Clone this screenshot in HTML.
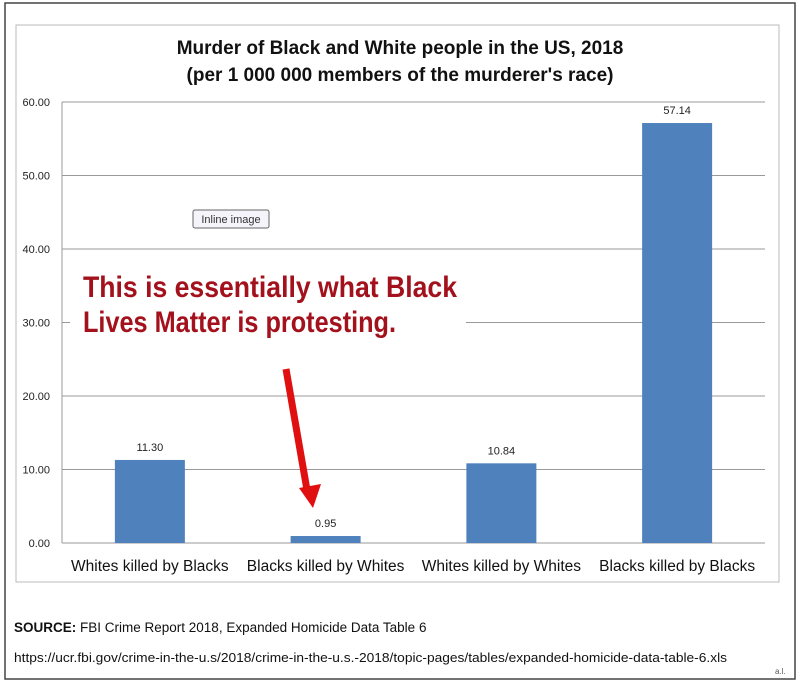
<!DOCTYPE html>
<html><head><meta charset="utf-8"><style>
html,body{margin:0;padding:0;background:#fff;width:800px;height:683px;overflow:hidden}
svg{display:block;font-family:"Liberation Sans",Arial,sans-serif}
</style></head><body>
<svg id="chart" width="800" height="683">
<rect x="5" y="3" width="790" height="676" fill="#fff" stroke="#444" stroke-width="1.5"/>
<rect x="16" y="25" width="763" height="557" fill="#fff" stroke="#bbb" stroke-width="1"/>
<text x="400" y="54" text-anchor="middle" font-size="19" font-weight="bold" fill="#111">Murder of Black and White people in the US, 2018</text>
<text x="400" y="81" text-anchor="middle" font-size="19" font-weight="bold" fill="#111">(per 1 000 000 members of the murderer's race)</text>
<g id="grid"></g>
<g id="bars"></g>
<rect x="193" y="210" width="76" height="18" rx="2" fill="#f4f4fa" stroke="#666"/>
<text x="231" y="223" text-anchor="middle" font-size="11" fill="#333">Inline image</text>
<rect x="70" y="266" width="396" height="74" fill="#fff"/>
<text x="83" y="297" font-size="30" font-weight="bold" fill="#a3121c" textLength="374" lengthAdjust="spacingAndGlyphs">This is  essentially  what  Black</text>
<text x="83" y="332" font-size="30" font-weight="bold" fill="#a3121c" textLength="313" lengthAdjust="spacingAndGlyphs">Lives Matter is protesting.</text>
<line x1="286" y1="369" x2="307" y2="490" stroke="#e01010" stroke-width="7"/>
<polygon points="299,488 321,484 313,508" fill="#e01010"/>
<text x="14" y="632" font-size="13.5" fill="#111"><tspan font-weight="bold">SOURCE:</tspan> FBI Crime Report 2018, Expanded Homicide Data Table 6</text>
<text x="14" y="662" font-size="13" fill="#111" textLength="713" lengthAdjust="spacingAndGlyphs">https://ucr.fbi.gov/crime-in-the-u.s/2018/crime-in-the-u.s.-2018/topic-pages/tables/expanded-homicide-data-table-6.xls</text>
<text x="775" y="674" font-size="8" fill="#555">a.l.</text>
</svg>
<script>
const categories=["Whites killed by Blacks","Blacks killed by Whites","Whites killed by Whites","Blacks killed by Blacks"];
const values=[11.30,0.95,10.84,57.14];
const valueLabels=["11.30","0.95","10.84","57.14"];
const yTicks=[0,10,20,30,40,50,60];
const yTickLabels=["0.00","10.00","20.00","30.00","40.00","50.00","60.00"];
const NS="http://www.w3.org/2000/svg";
const L=62,R=765,T=102,B=543,yMax=60;
const y=v=>B-(v/yMax)*(B-T);
const band=(R-L)/categories.length;
const xc=i=>L+band*(i+0.5);
function mk(tag,attrs,parent){const e=document.createElementNS(NS,tag);for(const k in attrs)e.setAttribute(k,attrs[k]);parent.appendChild(e);return e;}
const grid=document.getElementById('grid'),bars=document.getElementById('bars');
yTicks.forEach((t,i)=>{
  const ln=mk('line',{x1:L,x2:R,y1:y(t),y2:y(t),stroke:'#999','stroke-width':1},grid);
  
  
  const tx=mk('text',{x:L-12,y:y(t)+4,'text-anchor':'end','font-size':11,fill:'#222'},grid);
  tx.textContent=yTickLabels[i];
  
  
});
const ax=mk('line',{x1:L,x2:L,y1:T,y2:B,stroke:'#999'},grid);


const bw=70;
values.forEach((v,i)=>{
  const r=mk('rect',{x:xc(i)-bw/2,y:y(v),width:bw,height:B-y(v),fill:'#4f81bd'},bars);
  
  
  const lb=mk('text',{x:xc(i),y:y(v)-9,'text-anchor':'middle','font-size':11,fill:'#222'},bars);
  lb.textContent=valueLabels[i];
  
  
  const cl=mk('text',{x:xc(i),y:B+28,'text-anchor':'middle','font-size':15.5,fill:'#111'},bars);
  cl.textContent=categories[i];
  
  
});
</script>
</body></html>
